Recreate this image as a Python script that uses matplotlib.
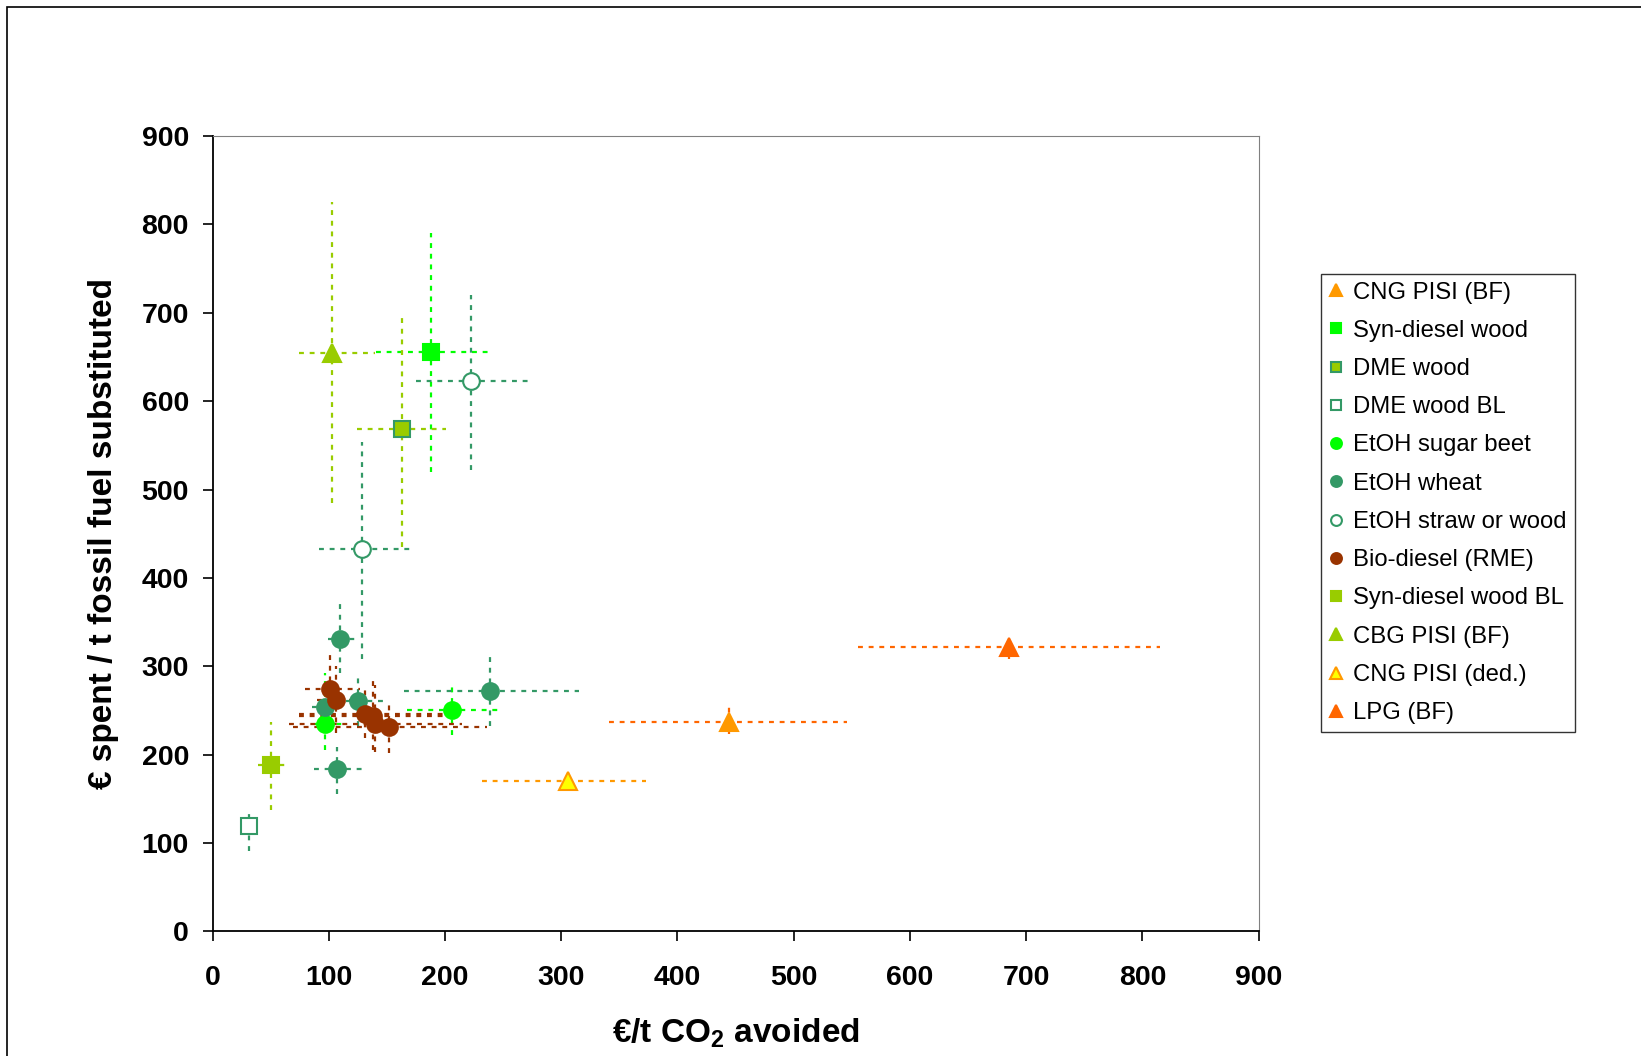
import matplotlib
matplotlib.use("Agg")
import matplotlib.pyplot as plt
from matplotlib.patches import Rectangle

plt.rcParams['font.family'] = ['Liberation Sans', 'DejaVu Sans']
plt.rcParams['mathtext.fontset'] = 'custom'
plt.rcParams['mathtext.bf'] = 'Liberation Sans:bold'
plt.rcParams['mathtext.rm'] = 'Liberation Sans'

# series: name, x, y, x-range, y-range
cng_bf_x = [444]; cng_bf_y = [237]
cng_bf_xlo = [341]; cng_bf_xhi = [546]; cng_bf_ylo = [224]; cng_bf_yhi = [254]

syn_wood_x = [188]; syn_wood_y = [656]
syn_wood_xlo = [141]; syn_wood_xhi = [237]; syn_wood_ylo = [520]; syn_wood_yhi = [790]

dme_wood_x = [163]; dme_wood_y = [569]
dme_wood_xlo = [124]; dme_wood_xhi = [201]; dme_wood_ylo = [435]; dme_wood_yhi = [700]

dme_bl_x = [31]; dme_bl_y = [119]
dme_bl_xlo = [30]; dme_bl_xhi = [32]; dme_bl_ylo = [91]; dme_bl_yhi = [134]

beet_x = [97, 206]; beet_y = [235, 251]
beet_xlo = [88, 167]; beet_xhi = [113, 246]; beet_ylo = [205, 222]; beet_yhi = [293, 277]

wheat_x = [110, 97, 125, 107, 239]; wheat_y = [331, 254, 261, 184, 272]
wheat_xlo = [99, 86, 115, 87, 165]; wheat_xhi = [123, 108, 147, 129, 315]
wheat_ylo = [292, 230, 232, 156, 232]; wheat_yhi = [371, 280, 287, 209, 311]

straw_x = [129, 222]; straw_y = [433, 623]
straw_xlo = [92, 175]; straw_xhi = [170, 271]; straw_ylo = [308, 522]; straw_yhi = [554, 720]

rme_x = [101, 106, 131, 138, 140, 152]; rme_y = [274, 262, 246, 244, 235, 231]
rme_xlo = [80, 90, 74, 74, 66, 69]; rme_xhi = [127, 120, 204, 200, 215, 236]
rme_ylo = [235, 225, 219, 205, 203, 202]; rme_yhi = [313, 300, 273, 285, 279, 257]

syn_bl_x = [50]; syn_bl_y = [188]
syn_bl_xlo = [39]; syn_bl_xhi = [62]; syn_bl_ylo = [137]; syn_bl_yhi = [237]

cbg_x = [103]; cbg_y = [655]
cbg_xlo = [74]; cbg_xhi = [140]; cbg_ylo = [485]; cbg_yhi = [825]

cng_ded_x = [306]; cng_ded_y = [170]
cng_ded_xlo = [232]; cng_ded_xhi = [373]; cng_ded_ylo = [168]; cng_ded_yhi = [172]

lpg_x = [685]; lpg_y = [322]
lpg_xlo = [555]; lpg_xhi = [815]; lpg_ylo = [308]; lpg_yhi = [331]

series = [
    ('CNG PISI (BF)', cng_bf_x, cng_bf_y, cng_bf_xlo, cng_bf_xhi, cng_bf_ylo, cng_bf_yhi, '^', '#FF9900', '#FF9900', '#FF6600'),
    ('Syn-diesel wood', syn_wood_x, syn_wood_y, syn_wood_xlo, syn_wood_xhi, syn_wood_ylo, syn_wood_yhi, 's', '#00FF00', '#00FF00', '#00FF00'),
    ('DME wood', dme_wood_x, dme_wood_y, dme_wood_xlo, dme_wood_xhi, dme_wood_ylo, dme_wood_yhi, 's', '#99CC00', '#339966', '#99CC00'),
    ('DME wood BL', dme_bl_x, dme_bl_y, dme_bl_xlo, dme_bl_xhi, dme_bl_ylo, dme_bl_yhi, 's', 'white', '#339966', '#339966'),
    ('EtOH sugar beet', beet_x, beet_y, beet_xlo, beet_xhi, beet_ylo, beet_yhi, 'o', '#00FF00', '#00FF00', '#00FF00'),
    ('EtOH wheat', wheat_x, wheat_y, wheat_xlo, wheat_xhi, wheat_ylo, wheat_yhi, 'o', '#339966', '#339966', '#339966'),
    ('EtOH straw or wood', straw_x, straw_y, straw_xlo, straw_xhi, straw_ylo, straw_yhi, 'o', 'white', '#339966', '#339966'),
    ('Bio-diesel (RME)', rme_x, rme_y, rme_xlo, rme_xhi, rme_ylo, rme_yhi, 'o', '#993300', '#993300', '#993300'),
    ('Syn-diesel wood BL', syn_bl_x, syn_bl_y, syn_bl_xlo, syn_bl_xhi, syn_bl_ylo, syn_bl_yhi, 's', '#99CC00', '#99CC00', '#99CC00'),
    ('CBG PISI (BF)', cbg_x, cbg_y, cbg_xlo, cbg_xhi, cbg_ylo, cbg_yhi, '^', '#99CC00', '#99CC00', '#99CC00'),
    ('CNG PISI (ded.)', cng_ded_x, cng_ded_y, cng_ded_xlo, cng_ded_xhi, cng_ded_ylo, cng_ded_yhi, '^', '#FFFF00', '#FF9900', '#FF9900'),
    ('LPG (BF)', lpg_x, lpg_y, lpg_xlo, lpg_xhi, lpg_ylo, lpg_yhi, '^', '#FF6600', '#FF6600', '#FF6600'),
]

fig = plt.figure(figsize=(16.41, 10.56), dpi=100)
fig.patches.append(Rectangle((7/1641, -0.1), 1.2, 1 - 7/1056 + 0.1, transform=fig.transFigure,
                             fill=False, edgecolor='black', linewidth=1.2))
ax = fig.add_axes([0.1295, 0.1179, 0.6375, 0.7533])

dash = (0, (2.2, 2.6))
for name, x, y, xlo, xhi, ylo, yhi, m, fc, ec, lc in series:
    ax.hlines(y, xlo, xhi, colors=lc, linestyles=dash, linewidth=1.6, zorder=2)
    ax.vlines(x, ylo, yhi, colors=lc, linestyles=dash, linewidth=1.6, zorder=2)

for name, x, y, xlo, xhi, ylo, yhi, m, fc, ec, lc in series:
    ms = 13 if m == '^' else (12 if m == 'o' else 11)
    ax.plot(x, y, linestyle='none', marker=m, markersize=ms, markerfacecolor=fc,
            markeredgecolor=ec, markeredgewidth=1.5, label=name, zorder=3)

ax.set_xlim(0, 900)
ax.set_ylim(0, 900)
ax.set_xticks(range(0, 901, 100))
ax.set_yticks(range(0, 901, 100))
ax.tick_params(labelsize=20.5, length=7, width=1.2, direction='out')
ax.tick_params(axis='y', pad=10)
ax.tick_params(axis='x', pad=17)
for lab in ax.get_xticklabels() + ax.get_yticklabels():
    lab.set_fontweight('bold')
ax.spines['top'].set_color('#808080')
ax.spines['right'].set_color('#808080')
for s in ['left', 'bottom']:
    ax.spines[s].set_linewidth(1.3)

ax.set_xlabel('€/t CO$_\\mathbf{2}$ avoided', fontsize=24, fontweight='bold', labelpad=18)
ax.set_ylabel('€ spent / t fossil fuel substituted', fontsize=24, fontweight='bold', labelpad=16)

leg = ax.legend(loc='upper left', bbox_to_anchor=(1.06, 0.827), fontsize=17.2, markerscale=0.65,
                frameon=True, fancybox=False, edgecolor='black', handlelength=0.6,
                handletextpad=0.4, labelspacing=0.68, borderpad=0.33, borderaxespad=0)
leg.get_frame().set_linewidth(1.0)

plt.savefig('out.png', dpi=100)
